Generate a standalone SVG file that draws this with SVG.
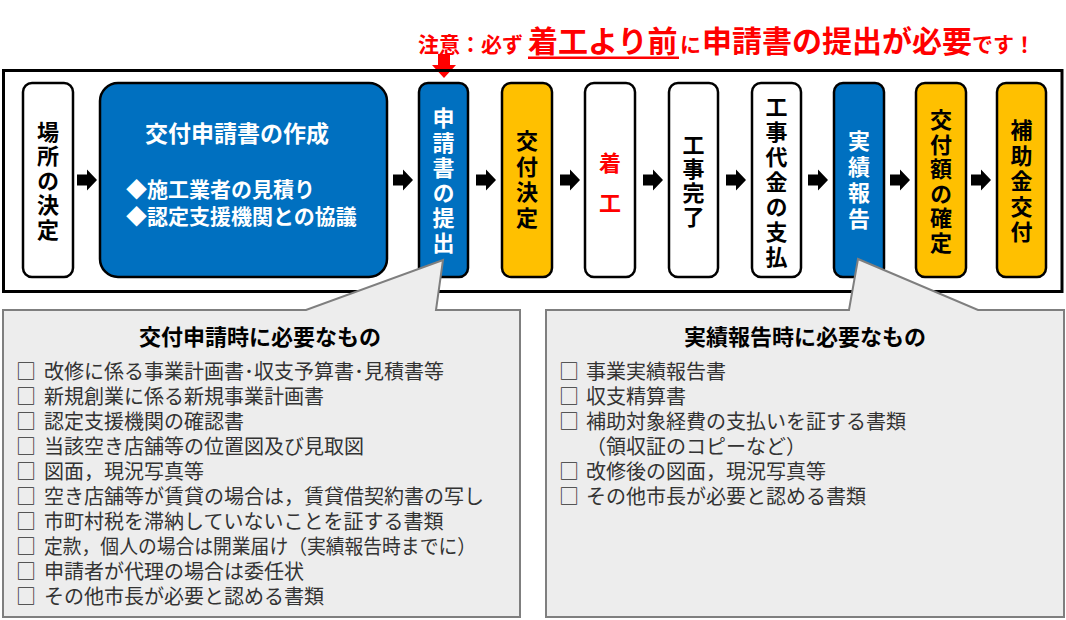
<svg xmlns="http://www.w3.org/2000/svg" xmlns:xlink="http://www.w3.org/1999/xlink" width="1066" height="620" viewBox="0 0 1066 620">
<style>
text{font-family:"Noto Sans CJK JP","Noto Sans",sans-serif;}
.box{stroke:#000;stroke-width:2.5;}
.blue{fill:#0070C0;}
.orange{fill:#FFC000;}
.white{fill:#FFFFFF;}
.vt{font-size:22px;font-weight:bold;text-anchor:middle;writing-mode:vertical-rl;text-orientation:upright;letter-spacing:3px;}
.red{fill:#FF0000;}
.tt{fill:#FF0000;font-weight:bold;}
.callout{fill:#EDEDED;stroke:#7F7F7F;stroke-width:2;}
.ct{font-size:22px;font-weight:bold;text-anchor:middle;dominant-baseline:central;fill:#000;}
.li{font-size:20px;fill:#333;dominant-baseline:central;}
</style>
<defs>
<polygon id="arr" points="0,-5.5 10,-5.5 10,-10.5 20,0 10,10.5 10,5.5 0,5.5" fill="#000"/>
</defs>
<rect width="1066" height="620" fill="#fff"/>

<g id="notice">
<text y="52" class="tt"><tspan x="418" font-size="21">注意：必ず</tspan><tspan x="528" font-size="30">着工より前</tspan><tspan x="680" font-size="21">に</tspan><tspan x="702" font-size="30">申請書の提出が必要</tspan><tspan x="972" font-size="21">です！</tspan></text>
<rect x="528" y="56.5" width="151" height="2.5" fill="#FF0000"/>
<polygon points="438,54 450,54 450,65 456,65 444,78 432,65 438,65" fill="#FF0000"/>
</g>

<g id="frame">
<rect x="3.5" y="70.5" width="1058.5" height="221" fill="none" stroke="#000" stroke-width="3"/>
</g>

<g id="connectors">
<use xlink:href="#arr" x="77" y="180"/>
<use xlink:href="#arr" x="393" y="180"/>
<use xlink:href="#arr" x="476" y="180"/>
<use xlink:href="#arr" x="560" y="180"/>
<use xlink:href="#arr" x="643" y="180"/>
<use xlink:href="#arr" x="726" y="180"/>
<use xlink:href="#arr" x="808" y="180"/>
<use xlink:href="#arr" x="890" y="180"/>
<use xlink:href="#arr" x="971" y="180"/>
</g>

<g id="n1">
<rect class="box white" x="23" y="83" width="50" height="194" rx="9"/>
<text class="vt" fill="#000" x="48" y="181.5" style="letter-spacing:2.5px">場所の決定</text>
</g>

<g id="n2">
<rect class="box blue" x="100" y="83" width="287" height="194" rx="18"/>
<text x="145" y="132" font-size="23" font-weight="bold" fill="#fff" dominant-baseline="central">交付申請書の作成</text>
<text x="126" y="188" font-size="21" font-weight="bold" fill="#fff" dominant-baseline="central">◆施工業者の見積り</text>
<text x="126" y="215" font-size="21" font-weight="bold" fill="#fff" dominant-baseline="central">◆認定支援機関との協議</text>
</g>

<g id="n3">
<rect class="box blue" x="419" y="83" width="49" height="194" rx="9"/>
<text class="vt" fill="#fff" x="443.5" y="181.5">申請書の提出</text>
</g>

<g id="n4">
<rect class="box orange" x="502" y="83" width="50" height="194" rx="9"/>
<text class="vt" fill="#000" x="527" y="181" style="letter-spacing:3.5px">交付決定</text>
</g>

<g id="n5">
<rect class="box white" x="585" y="83" width="50" height="194" rx="9"/>
<text class="vt red" x="610" y="192" style="letter-spacing:18px">着工</text>
</g>

<g id="n6">
<rect class="box white" x="669" y="83" width="49" height="194" rx="9"/>
<text class="vt" fill="#000" x="693.5" y="182" style="letter-spacing:2px">工事完了</text>
</g>

<g id="n7">
<rect class="box white" x="752" y="83" width="49" height="194" rx="9"/>
<text class="vt" fill="#000" x="776.5" y="183.5">工事代金の支払</text>
</g>

<g id="n8">
<rect class="box blue" x="834" y="83" width="50" height="194" rx="9"/>
<text class="vt" fill="#fff" x="859" y="182" style="letter-spacing:4px">実績報告</text>
</g>

<g id="n9">
<rect class="box orange" x="916" y="83" width="50" height="194" rx="9"/>
<text class="vt" fill="#000" x="941" y="182.5" style="letter-spacing:2.5px">交付額の確定</text>
</g>

<g id="n10">
<rect class="box orange" x="997" y="83" width="49" height="194" rx="9"/>
<text class="vt" fill="#000" x="1021.5" y="182.5" style="letter-spacing:3.5px">補助金交付</text>
</g>

<g id="callout-left">
<path class="callout" d="M3,310 L306,310 L443,260 L436,310 L520,310 L520,617 L3,617 Z"/>
<text class="ct" x="260" y="335">交付申請時に必要なもの</text>
<text class="li"><tspan x="16" y="370">□</tspan><tspan x="44" y="370">改修に係る事業計画書･収支予算書･見積書等</tspan></text>
<text class="li"><tspan x="16" y="395">□</tspan><tspan x="44" y="395">新規創業に係る新規事業計画書</tspan></text>
<text class="li"><tspan x="16" y="420">□</tspan><tspan x="44" y="420">認定支援機関の確認書</tspan></text>
<text class="li"><tspan x="16" y="445">□</tspan><tspan x="44" y="445">当該空き店舗等の位置図及び見取図</tspan></text>
<text class="li"><tspan x="16" y="470">□</tspan><tspan x="44" y="470">図面，現況写真等</tspan></text>
<text class="li"><tspan x="16" y="495">□</tspan><tspan x="44" y="495">空き店舗等が賃貸の場合は，賃貸借契約書の写し</tspan></text>
<text class="li"><tspan x="16" y="520">□</tspan><tspan x="44" y="520">市町村税を滞納していないことを証する書類</tspan></text>
<text class="li"><tspan x="16" y="545">□</tspan><tspan x="44" y="545" textLength="432" lengthAdjust="spacingAndGlyphs">定款，個人の場合は開業届け（実績報告時までに）</tspan></text>
<text class="li"><tspan x="16" y="570">□</tspan><tspan x="44" y="570">申請者が代理の場合は委任状</tspan></text>
<text class="li"><tspan x="16" y="595">□</tspan><tspan x="44" y="595">その他市長が必要と認める書類</tspan></text>
</g>

<g id="callout-right">
<path class="callout" d="M546,310 L849,310 L858,259 L978,310 L1064,310 L1064,617 L546,617 Z"/>
<text class="ct" x="805" y="335">実績報告時に必要なもの</text>
<text class="li"><tspan x="559" y="370">□</tspan><tspan x="586" y="370">事業実績報告書</tspan></text>
<text class="li"><tspan x="559" y="395">□</tspan><tspan x="586" y="395">収支精算書</tspan></text>
<text class="li"><tspan x="559" y="420">□</tspan><tspan x="586" y="420">補助対象経費の支払いを証する書類</tspan></text>
<text class="li"><tspan x="586" y="445">（領収証のコピーなど）</tspan></text>
<text class="li"><tspan x="559" y="470">□</tspan><tspan x="586" y="470">改修後の図面，現況写真等</tspan></text>
<text class="li"><tspan x="559" y="495">□</tspan><tspan x="586" y="495">その他市長が必要と認める書類</tspan></text>
</g>
</svg>
